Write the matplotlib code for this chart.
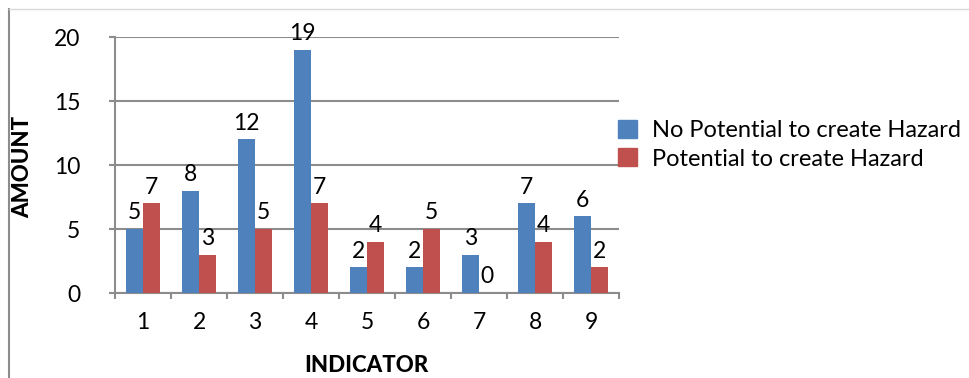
import matplotlib.pyplot as plt
from matplotlib.lines import Line2D
from matplotlib.patches import Patch
import numpy as np

plt.rcParams['font.family'] = ['Lato', 'DejaVu Sans']

indicators = ['1', '2', '3', '4', '5', '6', '7', '8', '9']
no_potential = [5, 8, 12, 19, 2, 2, 3, 7, 6]
potential = [7, 3, 5, 7, 4, 5, 0, 4, 2]
series_names = ['No Potential to create Hazard', 'Potential to create Hazard']
colors = ['#4F81BD', '#C0504D']
grey = '#8C8C8C'

W, H = 969, 378
fig = plt.figure(figsize=(W / 100, H / 100), dpi=100)
ax = fig.add_axes([115 / W, (H - 293) / H, (619 - 115) / W, (293 - 37) / H])

x = np.arange(len(indicators))
w = 0.295
b1 = ax.bar(x - w / 2, no_potential, w, color=colors[0], zorder=3)
b2 = ax.bar(x + w / 2, potential, w, color=colors[1], zorder=3)

for bars, vals in ((b1, no_potential), (b2, potential)):
    for bar, v in zip(bars, vals):
        ax.annotate(str(v), (bar.get_x() + bar.get_width() / 2, v),
                    xytext=(0, 4), textcoords='offset points',
                    ha='center', va='bottom', fontsize=16.5)

ax.set_xlim(-0.5, len(indicators) - 0.5)
ax.set_ylim(0, 20)
ax.set_yticks([0, 5, 10, 15, 20])
ax.yaxis.grid(True, color=grey, linewidth=1.5, zorder=0)
ax.tick_params(axis='y', length=4, width=1.5, color=grey, pad=21, labelsize=16.5)
ax.set_xticks(x)
ax.set_xticklabels(indicators)
ax.set_xticks(np.arange(len(indicators) + 1) - 0.5, minor=True)
ax.tick_params(axis='x', which='major', length=0, pad=14, labelsize=16.5)
ax.tick_params(axis='x', which='minor', length=4, width=1.5, color=grey)

for side in ('top', 'right'):
    ax.spines[side].set_visible(False)
for side in ('left', 'bottom'):
    ax.spines[side].set_color(grey)
    ax.spines[side].set_linewidth(1.5)

fig.text(23 / W, 1 - 167 / H, 'AMOUNT', rotation=90, ha='center', va='center',
         fontsize=16, fontweight='black')
fig.text(366 / W, 1 - 365 / H, 'INDICATOR', ha='center', va='center',
         fontsize=16, fontweight='black')

handles = [Patch(color=c) for c in colors]
fig.legend(handles, series_names, loc='upper left', bbox_to_anchor=(618 / W, 1 - 120 / H),
           frameon=False, fontsize=17, handlelength=0.8, handleheight=0.8,
           handletextpad=0.65, labelspacing=0.3, borderpad=0, borderaxespad=0)

# chart border (left and top edges)
fig.add_artist(Line2D([9 / W, 9 / W], [0, 1 - 9 / H], color='#8C8C8C', linewidth=1.5))
fig.add_artist(Line2D([9 / W, 1], [1 - 9 / H, 1 - 9 / H], color='#D9D9D9', linewidth=1.0))

fig.savefig('out.png', dpi=100)
